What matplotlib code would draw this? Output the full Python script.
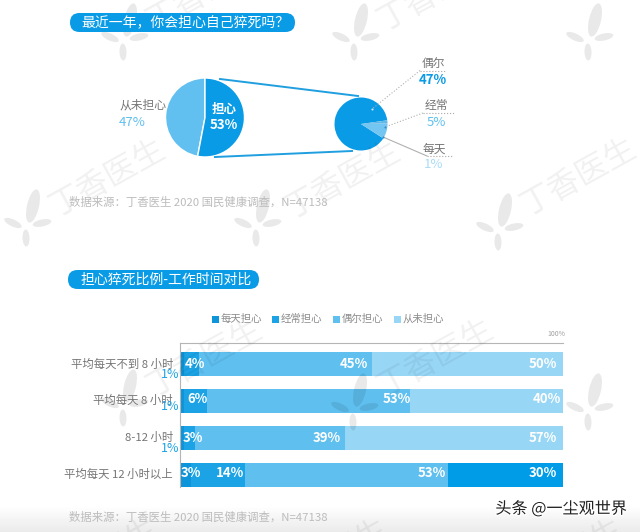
import numpy as np
import matplotlib
matplotlib.use('Agg')
import matplotlib.pyplot as plt
from matplotlib.patches import Ellipse, FancyBboxPatch, Rectangle
import matplotlib.patheffects as pe

plt.rcParams['font.family'] = ['Noto Sans CJK SC', 'DejaVu Sans']

W, H = 640, 532

# pies
main_labels = ['从未担心', '担心']
main_values = [47, 53]
detail_labels = ['偶尔', '经常', '每天']
detail_values = [47, 5, 1]

# stacked bars
rows = ['平均每天不到 8 小时', '平均每天 8 小时', '8-12 小时', '平均每天 12 小时以上']
series = ['每天担心', '经常担心', '偶尔担心', '从未担心']
daily = [1, 1, 1, 3]
often = [4, 6, 3, 14]
sometimes = [45, 53, 39, 53]
never = [50, 40, 57, 30]

source = '数据来源：丁香医生 2020 国民健康调查，N=47138'

BLUE = '#0a9be6'
C_DAILY = '#0e94d8'
C_OFTEN = '#1ba3e6'
C_SOME = '#5fbfef'
C_NEVER = '#98d6f6'
GRAY = '#757575'
SRC = '#bcbcbc'


def px_axes(fig, x0, y0, x1, y1, **kw):
    # axes placed by pixel box, y measured from the top
    return fig.add_axes([x0 / W, 1 - y1 / H, (x1 - x0) / W, (y1 - y0) / H], **kw)


def flower(ax, x, y):
    # leaf logo of the watermark: long tilted petal, two side petals, short lower one
    for dx, dy, l, w, ang in [(5, -17, 34, 12, 77), (-15, 0, 19, 7, 155), (14, 0, 19, 7, 12), (-2, 15, 17, 7, 92)]:
        ax.add_patch(Ellipse((x + dx, y + dy), l, w, angle=-ang, fc='black', alpha=0.085, lw=0))


fig = plt.figure(figsize=(W / 100, H / 100), dpi=100, facecolor='white')

# grey fade at the very bottom of the screenshot
bg = px_axes(fig, 0, 0, W, H, zorder=0)
grad = np.linspace(1, 0.92, 27).reshape(-1, 1)
bg.imshow(grad, extent=(0, W, H, 505), cmap='gray', vmin=0, vmax=1, aspect='auto')
bg.set_xlim(0, W)
bg.set_ylim(H, 0)
bg.axis('off')

# pies
ax_main = px_axes(fig, 165.5, 78, 244.5, 157, zorder=1)
ax_main.pie(main_values, colors=['#62c0f0', BLUE], startangle=90,
            wedgeprops={'edgecolor': 'white', 'linewidth': 1})
ax_main.set_xlim(-1, 1)
ax_main.set_ylim(-1, 1)

ax_detail = px_axes(fig, 334.5, 97.5, 387.5, 150.5, zorder=1)
ax_detail.pie(detail_values, colors=[BLUE, '#74c6f2', '#62b8e8'], startangle=8)
ax_detail.set_xlim(-1, 1)
ax_detail.set_ylim(-1, 1)

# stacked bars
ax_bar = px_axes(fig, 180, 343, 563, 487, zorder=1)
ax_bar.patch.set_alpha(0)
y = np.arange(len(rows))
left = np.zeros(len(rows))
for vals, col in zip([daily, often, sometimes, never], [C_DAILY, C_OFTEN, C_SOME, C_NEVER]):
    bars = ax_bar.barh(y, vals, left=left, height=0.65, color=col, lw=0)
    left = left + np.array(vals)
bars[3].set_color('#009ce8')
ax_bar.set_xlim(0, 100)
ax_bar.set_ylim(3.32, -0.57)
ax_bar.set_xticks([])
ax_bar.set_yticks([])
for s in ['right', 'bottom']:
    ax_bar.spines[s].set_visible(False)
for s in ['top', 'left']:
    ax_bar.spines[s].set_color('#b5b5b5')
    ax_bar.spines[s].set_linewidth(0.8)

# watermark sits over the marks, very faint
wm = px_axes(fig, 0, 0, W, H, zorder=1.5)
wm.patch.set_alpha(0)
wm.set_xlim(0, W)
wm.set_ylim(H, 0)
wm.axis('off')
for x, y0 in [(28, 223), (258, 223), (500, 227), (125, 37), (356, 37), (590, 37), (125, 403), (355, 407), (590, 407)]:
    flower(wm, x, y0)
for x, y0 in [(107, 178), (342, 180), (578, 177), (204, -8), (435, -8), (204, 358), (435, 358), (100, 558), (330, 558), (565, 558)]:
    wm.text(x, y0, '丁香医生', fontsize=23, color='black', alpha=0.06, rotation=29,
            ha='center', va='center', fontweight='light', clip_on=True)

# foreground: text and leader lines
fg = px_axes(fig, 0, 0, W, H, zorder=2)
fg.patch.set_alpha(0)
fg.set_xlim(0, W)
fg.set_ylim(H, 0)
fg.axis('off')

for x0, y0, x1, y1, t, tx in [(70, 13, 295, 32, '最近一年，你会担心自己猝死吗？', 81),
                              (68, 270, 259, 289, '担心猝死比例-工作时间对比', 81)]:
    r = (y1 - y0) / 2
    fg.add_patch(FancyBboxPatch((x0 + r, y0 + r), x1 - x0 - 2 * r, 0,
                                boxstyle='round,pad=%f,rounding_size=%f' % (r, r),
                                fc=BLUE, ec='none'))
    fg.text(tx, (y0 + y1) / 2, t, color='white', fontsize=10, ha='left', va='center')

fg.plot([220, 358], [79, 96], color='#1f9fe0', lw=1.4)
fg.plot([215, 352], [157, 151], color='#1f9fe0', lw=1.4)

fg.text(143, 105, main_labels[0], color=GRAY, fontsize=8.5, ha='center', va='center')
fg.text(132, 122, '%d%%' % main_values[0], color='#5fbfef', fontsize=9.5, ha='center', va='center')
fg.text(224, 109, main_labels[1], color='white', fontsize=9, fontweight='bold', ha='center', va='center')
fg.text(224, 125, '%d%%' % main_values[1], color='white', fontsize=9.5, fontweight='bold', ha='center', va='center')

leaders = [((420, 445), 70.5, (372, 109)), ((423, 454), 113, (385, 127)), ((427, 452), 156, (383, 137))]
detail_text = [(433, 63, 80, BLUE), (436, 106, 122, '#5fbfef'), (434, 149, 165, '#aadcf7')]
for (xs, ly, end), (tx, ty, vy, col), lab, val in zip(leaders, detail_text, detail_labels, detail_values):
    fg.plot(xs, [ly, ly], color='#a8a8a8', lw=0.8, ls=':')
    fg.plot([xs[0], end[0]], [ly, end[1]], color='#b0b0b0', lw=0.8, ls=':' if lab != '每天' else '-')
    fg.plot(end[0], end[1], 'o', ms=1.5, color='#c8e6f8' if lab == '偶尔' else '#2a8fd0', mew=0)
    fg.text(tx, ty, lab, color=GRAY, fontsize=8.5, ha='center', va='center')
    fg.text(tx, vy, '%d%%' % val, color=col, fontsize=9.5, ha='center', va='center',
            fontweight='bold' if lab == '偶尔' else 'normal')

fg.text(69, 202, source, color=SRC, fontsize=8.2, ha='left', va='center')
fg.text(69, 517, source, color=SRC, fontsize=8.2, ha='left', va='center')

# legend
for x, name, col in zip([212, 272, 333, 394], series, [C_DAILY, C_OFTEN, C_SOME, C_NEVER]):
    fg.add_patch(Rectangle((x, 316), 7, 7, fc=col, ec='none'))
    fg.text(x + 9, 319, name, color='#8c8c8c', fontsize=7.5, ha='left', va='center')
fg.text(556, 334, '100%', color='#a0a0a0', fontsize=5, ha='center', va='center')

# row labels and values
row_y = [364, 400, 437, 474]
one_y = [375, 407, 448]
for ry, r in zip(row_y, rows):
    fg.text(173, ry, r, color=GRAY, fontsize=8.2, ha='right', va='center')
for oy, v in zip(one_y, daily):
    fg.text(179, oy, '%d%%' % v, color='#1ba3e6', fontsize=9, ha='right', va='center')

value_x = [[195, 354, 543], [197, 397, 547], [193, 327, 543], [191, 230, 432, 543]]
value_y = [364, 399, 438, 473]
row_vals = [[often[0], sometimes[0], never[0]], [often[1], sometimes[1], never[1]],
            [often[2], sometimes[2], never[2]], [daily[3], often[3], sometimes[3], never[3]]]
for xs, vy, vals in zip(value_x, value_y, row_vals):
    for x, v in zip(xs, vals):
        fg.text(x, vy, '%d%%' % v, color='white', fontsize=9.5, fontweight='bold', ha='center', va='center')

fg.text(627, 509, '头条 @一尘观世界', color='#222222', fontsize=11.6, ha='right', va='center',
        path_effects=[pe.withStroke(linewidth=2, foreground='white')])

fig.savefig('out.png', dpi=100)
